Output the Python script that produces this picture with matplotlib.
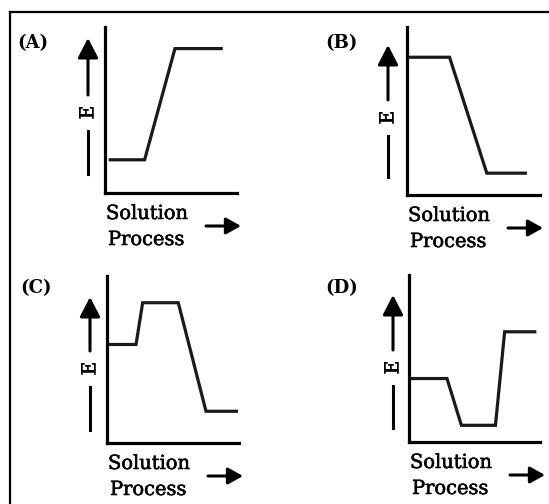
import matplotlib
matplotlib.use("Agg")
import matplotlib.pyplot as plt
import matplotlib.patheffects as pe
from matplotlib.patches import FancyArrowPatch
from matplotlib.lines import Line2D

# energy profile of the solution process, one per panel (x = process step, y = energy)
a_x = [0.4, 3.0, 5.3, 8.8]
a_y = [2.0, 2.0, 8.7, 8.7]
b_x = [0.0, 3.2, 6.0, 8.9]
b_y = [8.2, 8.2, 1.3, 1.3]
c_x = [0.0, 2.2, 2.7, 5.4, 7.5, 9.8]
c_y = [5.9, 5.9, 8.4, 8.4, 1.9, 1.9]
d_x = [0.0, 2.9, 4.0, 6.6, 7.3, 9.6]
d_y = [3.8, 3.8, 1.0, 1.0, 6.6, 6.6]
labels = ["(A)", "(B)", "(C)", "(D)"]

W, H = 549, 504
fig = plt.figure(figsize=(W / 100, H / 100), dpi=100)
fig.patch.set_facecolor("white")


def fx(px):
    return px / W


def fy(py):
    return 1 - py / H


# layout in image pixels: axes box (left, right, top, bottom), label pos, E arrow (x, top, E centre, bottom)
boxes = [(105, 237, 27, 193), (407, 540, 27, 195), (107, 239, 276, 443), (409, 540, 275, 442)]
lab_pos = [(17, 43), (325, 43), (20, 288), (325, 288)]
e_arrow = [(88, 38, 112, 174), (388, 45, 117, 177), (90, 297, 368, 430), (393, 295, 367, 428)]
series = [(a_x, a_y), (b_x, b_y), (c_x, c_y), (d_x, d_y)]

serif = "DejaVu Serif"
heavy = [pe.withStroke(linewidth=0.4, foreground="black")]

for i in range(4):
    L, R, T, B = boxes[i]
    ax = fig.add_axes([fx(L), fy(B), (R - L) / W, (B - T) / H])
    xs, ys = series[i]
    ax.plot(xs, ys, color="#1a1a1a", lw=2.3, solid_joinstyle="miter")
    ax.set_xlim(0, 10)
    ax.set_ylim(0, 10)
    ax.set_xticks([])
    ax.set_yticks([])
    ax.spines[["top", "right"]].set_visible(False)
    for s in ["left", "bottom"]:
        ax.spines[s].set_linewidth(2.3)
        ax.spines[s].set_color("black")
    ax.patch.set_alpha(0)

    # panel label
    lx, ly = lab_pos[i]
    fig.text(fx(lx), fy(ly), labels[i], fontsize=13, fontweight="bold",
             family=serif, ha="left", va="center")

    # vertical E arrow
    ex, etop, ec, ebot = e_arrow[i]
    gap = 17
    fig.add_artist(FancyArrowPatch((fx(ex), fy(ec - gap)), (fx(ex), fy(etop)),
                                   transform=fig.transFigure,
                                   arrowstyle="-|>,head_length=1.2,head_width=0.62",
                                   mutation_scale=10, lw=2.2, color="black",
                                   shrinkA=0, shrinkB=0))
    fig.add_artist(Line2D([fx(ex), fx(ex)], [fy(ec + gap + 2), fy(ebot)],
                          transform=fig.transFigure, color="black", lw=2.2))
    fig.text(fx(ex), fy(ec), "E", fontsize=13.5, family=serif, rotation=90,
             ha="center", va="center", path_effects=heavy)

    # x label and arrow
    fig.text(fx(L + 1), fy(B + 26), "Solution", fontsize=14, family=serif,
             ha="left", va="baseline", path_effects=heavy)
    fig.text(fx(L + 3), fy(B + 52), "Process", fontsize=14, family=serif,
             ha="left", va="baseline", path_effects=heavy)
    fig.add_artist(FancyArrowPatch((fx(L + 101), fy(B + 33)), (fx(L + 136), fy(B + 33)),
                                   transform=fig.transFigure,
                                   arrowstyle="-|>,head_length=0.9,head_width=0.5",
                                   mutation_scale=10, lw=2.2, color="black",
                                   shrinkA=0, shrinkB=0))

# outer frame (top and left edges)
fig.add_artist(Line2D([fx(10), 1.0], [fy(12), fy(12)], transform=fig.transFigure,
                      color="black", lw=1.6))
fig.add_artist(Line2D([fx(10), fx(10)], [fy(12), 0.0], transform=fig.transFigure,
                      color="black", lw=1.6))

fig.savefig("out.png", dpi=100)
